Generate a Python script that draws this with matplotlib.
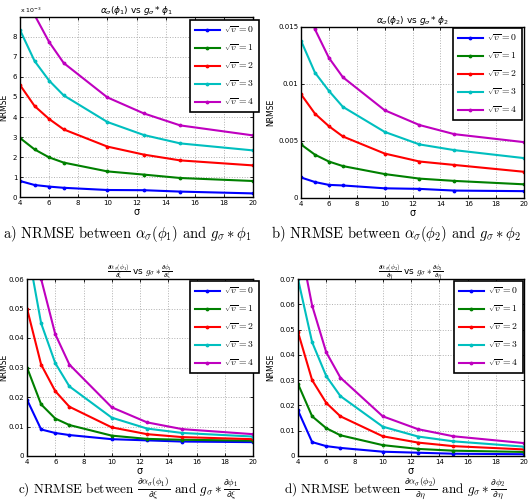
import numpy as np
import matplotlib
matplotlib.use("Agg")
import matplotlib.pyplot as plt
from matplotlib.ticker import FuncFormatter

plt.rcParams['mathtext.fontset'] = 'cm'
plt.rcParams['font.family'] = 'DejaVu Sans'

# sigma values used in every panel
sigma = [4, 5, 6, 7, 10, 12.5, 15, 20]

# a) alpha(phi1) vs g*phi1
nrmse_a = [
    [0.80e-3, 0.60e-3, 0.52e-3, 0.46e-3, 0.35e-3, 0.34e-3, 0.27e-3, 0.18e-3],
    [2.95e-3, 2.38e-3, 1.98e-3, 1.72e-3, 1.28e-3, 1.12e-3, 0.95e-3, 0.80e-3],
    [5.60e-3, 4.55e-3, 3.90e-3, 3.38e-3, 2.52e-3, 2.12e-3, 1.83e-3, 1.58e-3],
    [8.35e-3, 6.80e-3, 5.82e-3, 5.08e-3, 3.75e-3, 3.10e-3, 2.68e-3, 2.33e-3],
    [11.0e-3, 9.10e-3, 7.75e-3, 6.70e-3, 4.98e-3, 4.18e-3, 3.58e-3, 3.08e-3],
]
# b) alpha(phi2) vs g*phi2
nrmse_b = [
    [0.0018, 0.0014, 0.00115, 0.0011, 0.00085, 0.0008, 0.00065, 0.0006],
    [0.0047, 0.0038, 0.0032, 0.0028, 0.0021, 0.0017, 0.0015, 0.0012],
    [0.0091, 0.0074, 0.0063, 0.0054, 0.0039, 0.0032, 0.0029, 0.0023],
    [0.0138, 0.0110, 0.0094, 0.0080, 0.0058, 0.0047, 0.0042, 0.0035],
    [0.0190, 0.0148, 0.0123, 0.0106, 0.0077, 0.0064, 0.0056, 0.0049],
]
# c) d alpha(phi1)/dxi vs g * dphi1/dxi
nrmse_c = [
    [0.0191, 0.0090, 0.0078, 0.0071, 0.0057, 0.0053, 0.0049, 0.0047],
    [0.0300, 0.0175, 0.0127, 0.0105, 0.0069, 0.0058, 0.0055, 0.0052],
    [0.0500, 0.0310, 0.0220, 0.0167, 0.0097, 0.0074, 0.0064, 0.0057],
    [0.0714, 0.0450, 0.0315, 0.0236, 0.0130, 0.0093, 0.0078, 0.0066],
    [0.0900, 0.0600, 0.0413, 0.0310, 0.0165, 0.0114, 0.0091, 0.0074],
]
# d) d alpha(phi2)/deta vs g * dphi2/deta
nrmse_d = [
    [0.0180, 0.0055, 0.0039, 0.0032, 0.0017, 0.0013, 0.0009, 0.0007],
    [0.0285, 0.0157, 0.0110, 0.0082, 0.0043, 0.0028, 0.0021, 0.0016],
    [0.0490, 0.0300, 0.0210, 0.0157, 0.0078, 0.0053, 0.0039, 0.0026],
    [0.0700, 0.0450, 0.0316, 0.0237, 0.0116, 0.0077, 0.0058, 0.0037],
    [0.0880, 0.0595, 0.0410, 0.0310, 0.0157, 0.0106, 0.0078, 0.0051],
]

labels = [r'$\sqrt{v}=%d$' % k for k in range(5)]
colors = ['#0000ff', '#008000', '#ff0000', '#00bfbf', '#bf00bf']

W, H = 528.0, 504.0
fig = plt.figure(figsize=(W / 100, H / 100), dpi=100)


def px_axes(l, t, r, b):
    return fig.add_axes([l / W, 1 - b / H, (r - l) / W, (b - t) / H])


def panel(ax, data, ymax, yticks, fmt, title, title_kw, leg_box, ylab_x,
          caption, cap_x, cap_y, cap_size):
    for vals, c, lab in zip(data, colors, labels):
        ax.plot(sigma, vals, color=c, lw=1.5, marker='.', ms=3.5, label=lab)
    ax.set_xlim(4, 20)
    ax.set_ylim(0, ymax)
    ax.set_xticks(np.arange(4, 21, 2))
    ax.set_yticks(yticks)
    ax.yaxis.set_major_formatter(FuncFormatter(fmt))
    ax.grid(True, color='#b0b0b0', ls=':', lw=0.7)
    ax.tick_params(direction='in', top=True, right=True, labelsize=5, length=2.5,
                   width=0.6, pad=2)
    for s in ax.spines.values():
        s.set_linewidth(1.0)
    ax.set_xlabel(r'σ', fontsize=7, labelpad=1)
    ax.set_ylabel('NRMSE', fontsize=5.5)
    pos = ax.get_position()
    ax.yaxis.set_label_coords((ylab_x / W - pos.x0) / pos.width, 0.5)
    ax.set_title(title, pad=3, **title_kw)
    l, t, r, b = leg_box
    leg = ax.legend(loc='upper right', bbox_to_anchor=(r / W, 1 - t / H),
                    bbox_transform=fig.transFigure, fontsize=7, frameon=True,
                    fancybox=False, edgecolor='black', framealpha=1,
                    handlelength=2.6, labelspacing=0.75, borderpad=0.5,
                    handletextpad=0.4, borderaxespad=0)
    leg.get_frame().set_linewidth(1.2)
    fig.text(cap_x / W, 1 - cap_y / H, caption, ha='center', va='center',
             fontsize=cap_size, family='cmr10')


ax_a = px_axes(20, 17, 253, 197)
ax_b = px_axes(301, 27, 524, 198)
ax_c = px_axes(27, 279, 253, 456)
ax_d = px_axes(298, 279, 524, 456)

sans_title = dict(fontsize=6.5, math_fontfamily='dejavusans')
cm_title = dict(fontsize=6.5)

panel(ax_a, nrmse_a, 9e-3, np.arange(0, 9e-3, 1e-3), lambda v, p: '%g' % round(v * 1e3, 6),
      r'$\alpha_\sigma(\phi_1)$ vs $g_\sigma * \phi_1$', sans_title,
      (191, 20, 259, 105), 8,
      r'a) NRMSE between $\alpha_\sigma(\phi_1)$ and $g_\sigma * \phi_1$', 127, 234, 10.5)
ax_a.text(0.0, 1.01, r'x $10^{-3}$', transform=ax_a.transAxes, fontsize=4.5,
          ha='left', va='bottom', math_fontfamily='dejavusans')

panel(ax_b, nrmse_b, 0.015, [0, 0.005, 0.01, 0.015], lambda v, p: '%g' % round(v, 6),
      r'$\alpha_\sigma(\phi_2)$ vs $g_\sigma * \phi_2$', sans_title,
      (464, 28, 522, 110), 275,
      r'b) NRMSE between $\alpha_\sigma(\phi_2)$ and $g_\sigma * \phi_2$', 396, 234, 10.5)

panel(ax_c, nrmse_c, 0.06, np.arange(0, 0.061, 0.01), lambda v, p: '%g' % round(v, 6),
      r'$\frac{\partial\alpha_\sigma(\phi_1)}{\partial\xi}$ vs $g_\sigma * \frac{\partial\phi_1}{\partial\xi}$',
      cm_title, (193, 281, 259, 363), 8,
      r'c) NRMSE between $\frac{\partial\alpha_\sigma(\phi_1)}{\partial\xi}$ and $g_\sigma * \frac{\partial\phi_1}{\partial\xi}$',
      129, 489, 9.5)

panel(ax_d, nrmse_d, 0.07, np.arange(0, 0.071, 0.01), lambda v, p: '%g' % round(v, 6),
      r'$\frac{\partial\alpha_\sigma(\phi_2)}{\partial\eta}$ vs $g_\sigma * \frac{\partial\phi_2}{\partial\eta}$',
      cm_title, (463, 281, 523, 363), 275,
      r'd) NRMSE between $\frac{\partial\alpha_\sigma(\phi_2)}{\partial\eta}$ and $g_\sigma * \frac{\partial\phi_2}{\partial\eta}$',
      395, 489, 9.5)

fig.savefig('out.png', dpi=100)
